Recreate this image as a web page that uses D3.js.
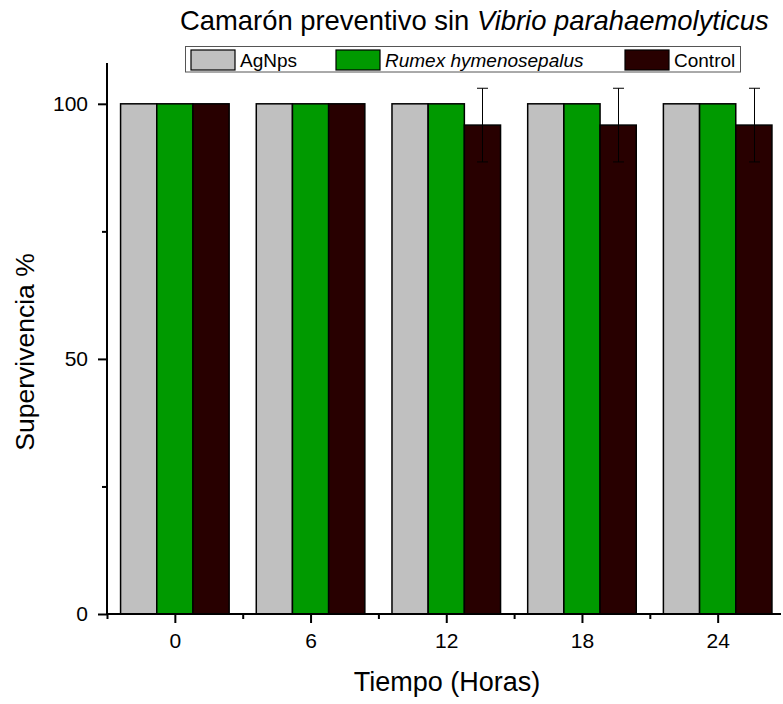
<!DOCTYPE html>
<html>
<head>
<meta charset="utf-8">
<script src="https://cdn.jsdelivr.net/npm/d3@7/dist/d3.min.js"></script>
<style>
  body { margin: 0; background: #fff; }
  svg { display: block; }
  text { font-family: "Liberation Sans", Arial, sans-serif; fill: #000; }
</style>
</head>
<body>
<svg id="chart" width="783" height="704"></svg>
<script>
// ---- data ----
const hours = [0, 6, 12, 18, 24];
const seriesNames = ["AgNps", "Rumex hymenosepalus", "Control"];
const agnps = [100, 100, 100, 100, 100];
const rumex = [100, 100, 100, 100, 100];
const control = [100, 100, 95.83, 95.83, 95.83];
const controlErr = [0, 0, 7.22, 7.22, 7.22];
const yTicks = [0, 50, 100];
const yMinorTicks = [25, 75];
const xMinorTicks = [-3, 3, 9, 15, 21];
const colors = ["#c0c0c0", "#009a00", "#280000"];

const FONT = "'Liberation Sans', Arial, sans-serif";
const svg = d3.select("#chart");
const x = d3.scaleLinear().domain([-3, 26.8]).range([107, 781]);
const y = d3.scaleLinear().domain([0, 108]).range([614, 63]);
const barW = 1.6; // hours

const series = [
  { name: seriesNames[0], values: agnps, color: colors[0], offset: -1 },
  { name: seriesNames[1], values: rumex, color: colors[1], offset: 0 },
  { name: seriesNames[2], values: control, color: colors[2], offset: 1 }
];

// bars
series.forEach(s => {
  svg.append("g").selectAll("rect").data(hours).join("rect")
    .attr("x", (h) => x(h + s.offset * barW - barW / 2))
    .attr("width", (h) => x(h + barW / 2) - x(h - barW / 2))
    .attr("y", (h, i) => y(s.values[i]))
    .attr("height", (h, i) => y(0) - y(s.values[i]))
    .attr("fill", s.color)
    .attr("stroke", "#000")
    .attr("stroke-width", 1.5);
});

// error bars for control
const eb = svg.append("g").attr("stroke", "#000").attr("stroke-width", 1);
hours.forEach((h, i) => {
  const e = controlErr[i];
  if (!e) return;
  const cx = Math.round(x(h + barW)) + 0.5;
  const v = control[i];
  eb.append("line").attr("x1", cx).attr("x2", cx).attr("y1", y(v + e)).attr("y2", y(v - e));
  eb.append("line").attr("x1", cx - 5.5).attr("x2", cx + 5.5).attr("y1", y(v + e)).attr("y2", y(v + e));
  eb.append("line").attr("x1", cx - 5.5).attr("x2", cx + 5.5).attr("y1", y(v - e)).attr("y2", y(v - e));
});

// axes
const xAxis = d3.axisBottom(x).tickValues(hours).tickSize(9).tickPadding(10).tickFormat(d3.format("d"));
const gx = svg.append("g").attr("transform", `translate(0,${y(0)})`).call(xAxis);
gx.select(".domain").attr("stroke-width", 2).attr("d", `M${x(-3)},0H${x(26.8)}`);
gx.selectAll(".tick line").attr("stroke-width", 2);
gx.selectAll(".tick text").attr("font-size", 21).attr("font-family", FONT);
const gxm = svg.append("g").attr("transform", `translate(0,${y(0)})`)
  .call(d3.axisBottom(x).tickValues(xMinorTicks).tickSize(5).tickFormat(""));
gxm.select(".domain").remove();
gxm.selectAll(".tick line").attr("stroke-width", 2);

const yAxis = d3.axisLeft(y).tickValues(yTicks).tickSize(9).tickPadding(10);
const gy = svg.append("g").attr("transform", `translate(${x(-3)},0)`).call(yAxis);
gy.select(".domain").attr("stroke-width", 2).attr("d", `M0,${y(0) + 1}V${y(108)}`);
gy.selectAll(".tick line").attr("stroke-width", 2);
gy.selectAll(".tick text").attr("font-size", 21).attr("font-family", FONT);
const gym = svg.append("g").attr("transform", `translate(${x(-3)},0)`)
  .call(d3.axisLeft(y).tickValues(yMinorTicks).tickSize(5).tickFormat(""));
gym.select(".domain").remove();
gym.selectAll(".tick line").attr("stroke-width", 2);

// axis titles
svg.append("text").attr("x", 447).attr("y", 691).attr("text-anchor", "middle")
  .attr("font-size", 27).text("Tiempo (Horas)");
svg.append("text").attr("transform", "translate(34,352) rotate(-90)").attr("text-anchor", "middle")
  .attr("font-size", 26.5).text("Supervivencia %");

// title
const title = svg.append("text").attr("x", 180).attr("y", 30).attr("font-size", 27.4);
title.append("tspan").text("Camarón preventivo sin ");
title.append("tspan").attr("font-style", "italic").text("Vibrio parahaemolyticus");

// legend
svg.append("rect").attr("x", 185.5).attr("y", 46.5).attr("width", 555).attr("height", 25.5)
  .attr("fill", "#fff").attr("stroke", "#555").attr("stroke-width", 1);
const legendX = [191, 336, 625];
series.forEach((s, i) => {
  svg.append("rect").attr("x", legendX[i]).attr("y", 50).attr("width", 44).attr("height", 20)
    .attr("fill", s.color).attr("stroke", "#000").attr("stroke-width", 1.2);
  svg.append("text").attr("x", legendX[i] + 49).attr("y", 67).attr("font-size", 19)
    .attr("font-style", i === 1 ? "italic" : "normal").text(s.name);
});
</script>
</body>
</html>
